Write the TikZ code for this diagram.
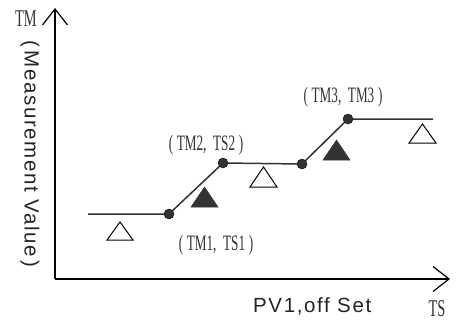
\documentclass[tikz,border=0pt]{standalone}
\usepackage{fontspec}
\setmainfont{Liberation Serif}
\newfontfamily\condserif[FakeStretch=0.6]{Liberation Serif}
\newfontfamily\labelsans[LetterSpace=8]{Liberation Sans}
\usetikzlibrary{arrows.meta}

\definecolor{ink}{HTML}{333333}

\tikzset{
  axis/.style={line width=1.4pt, black, -{Straight Barb[length=16pt,width=25pt,line width=1.2pt]}},
  curve/.style={line width=1.5pt, ink},
  dot/.style={circle, fill=ink, draw=black, line width=0.4pt, inner sep=0pt, minimum size=10pt},
  ptlabel/.style={font=\condserif\fontsize{22}{24}\selectfont, inner sep=0pt, text=ink},
  axlabel/.style={font=\condserif\fontsize{24}{25}\selectfont, inner sep=0pt, text=ink},
  sidelabel/.style={font=\labelsans\fontsize{20.5}{22}\selectfont, inner sep=0pt, text=ink!70!black},
  opentri/.style={line width=1pt, black},
  solidtri/.style={fill=ink, draw=ink, line width=0.5pt}
}

\begin{document}
\begin{tikzpicture}[x=1pt, y=-1pt]
  \useasboundingbox (0,0) rectangle (465,322);

  % axes
  \coordinate (origin) at (55,279);
  \coordinate (ytip) at (55,8);
  \coordinate (xtip) at (450,279);
  \draw[axis] (origin) -- (ytip);
  \draw[axis] (origin) -- (xtip);

  % axis captions
  \node[axlabel] (tm) at (26,19) {TM};
  \node[axlabel, anchor=base] (ts) at (437,316.5) {TS};
  \node[sidelabel, rotate=-90] (meas) at (30,154) {(\,Measurement Value\,)};
  \node[sidelabel, anchor=west] (pv) at (253,306) {PV1,off Set};

  % set-point profile
  \coordinate (start) at (88,214);
  \node[dot] (d1) at (169,214) {};
  \node[dot] (d2) at (223,163) {};
  \node[dot] (d3) at (302,164) {};
  \node[dot] (d4) at (348,119) {};
  \coordinate (end) at (433,119);
  \draw[curve] (start) -- (d1) -- (d2) -- (d3) -- (d4) -- (end);

  % point labels
  \node[ptlabel] (l1) at (216,245) {(\,TM1,\ \ TS1\,)};
  \node[ptlabel] (l2) at (206,145) {(\,TM2,\ \ TS2\,)};
  \node[ptlabel] (l3) at (343,97) {(\,TM3,\ \ TM3\,)};

  % hold segments (open) and ramp segments (filled)
  \draw[opentri] (107,240) -- (120,222) -- (133,240) -- cycle;
  \draw[opentri] (250,187) -- (263.5,167) -- (277,187) -- cycle;
  \draw[opentri] (409,143) -- (422.5,124) -- (436,143) -- cycle;
  \draw[solidtri] (191,207) -- (204.5,187) -- (218,207) -- cycle;
  \draw[solidtri] (323,160) -- (336.5,140) -- (350,160) -- cycle;
\end{tikzpicture}
\end{document}
